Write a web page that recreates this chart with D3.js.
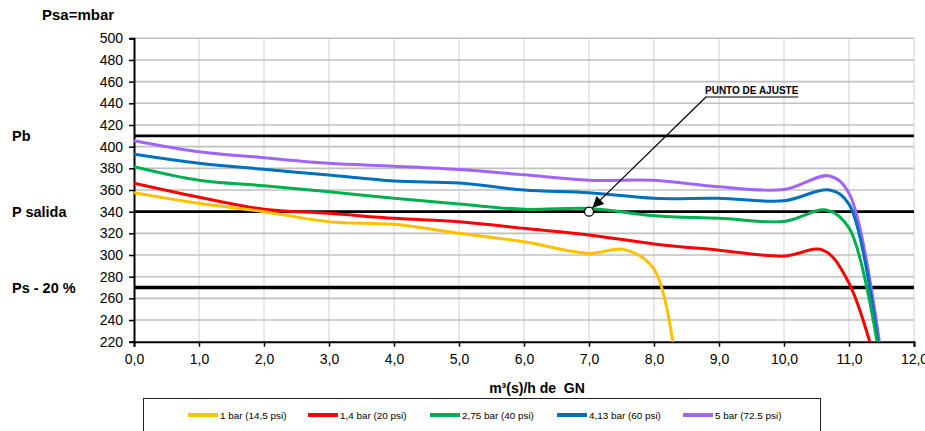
<!DOCTYPE html>
<html>
<head>
<meta charset="utf-8">
<script src="https://cdn.jsdelivr.net/npm/d3@7"></script>
<style>
  body { margin: 0; background: #fff; }
  svg text { font-family: Arial, "Liberation Sans", sans-serif; fill: #000; }
</style>
</head>
<body>
<script>
// series data (flow in m3/h, pressure in mbar)
const seriesNames = ["1 bar (14,5 psi)", "1,4 bar (20 psi)", "2,75 bar (40 psi)", "4,13 bar (60 psi)", "5 bar (72.5 psi)"];

const flow1bar = [0, 1, 2, 3, 4, 5, 6, 7, 7.55, 8, 8.3];
const psa1bar = [357.5, 347.7, 340, 330.7, 328.3, 320, 312.3, 301.5, 305, 287, 215];

const flow14bar = [0, 1, 2, 3, 4, 5, 6, 7, 8, 9, 10, 10.6, 11, 11.5];
const psa14bar = [366.2, 353.3, 342.2, 338.5, 333.9, 330.7, 324.6, 318.5, 310.2, 304.5, 299, 304.6, 274, 181];

const flow275bar = [0, 1, 2, 3, 4, 5, 6, 7, 8, 9, 10, 10.65, 11, 11.5];
const psa275bar = [381.5, 369, 364, 358.4, 352.3, 347.1, 342.2, 343, 336.3, 333.9, 331, 341.5, 325, 194];

const flow413bar = [0, 1, 2, 3, 4, 5, 6, 7, 8, 9, 10, 10.7, 11, 11.5];
const psa413bar = [392.9, 384.6, 379.1, 373.8, 368.3, 366.5, 360, 357.5, 352.3, 352.3, 350, 360, 347, 195];

const flow5bar = [0, 1, 2, 3, 4, 5, 6, 7, 8, 9, 10, 10.7, 11, 11.5];
const psa5bar = [405.5, 395.3, 389.8, 384.6, 382, 379, 374, 369, 369, 363, 360.5, 373, 357, 205];

// reference pressure levels
const refLevels = [410, 340, 270];
const refLabels = ["Pb", "P salida", "Ps - 20 %"];

// axis ticks
const yTicks = d3.range(220, 501, 20);
const xTicks = d3.range(0, 13, 1);

// adjustment point
const adjustPoint = [7.0, 340];
const adjustLabel = "PUNTO DE AJUSTE";

(function() {

  let svgContainer = "";
  const colors = ["#FFC000", "#FF0000", "#00B050", "#0070C0", "#A065F8"];

  window.onload = function() {
    svgContainer = d3.select('body').append('svg')
      .attr('width', 925)
      .attr('height', 431);

    let map = drawAxes();
    drawRefLines(map);
    plotSeries(map);
    drawAdjustPoint(map);
    makeLegend();
  }

  // grid, axes, tick labels
  function drawAxes() {
    let xScale = d3.scaleLinear().domain([0, 12]).range([134, 914]);
    let yScale = d3.scaleLinear().domain([220, 500]).range([341.7, 38.3]);

    // vertical grid
    svgContainer.append('g').selectAll('line')
      .data(xTicks.slice(1))
      .enter().append('line')
        .attr('x1', (d) => xScale(d)).attr('x2', (d) => xScale(d))
        .attr('y1', yScale(500)).attr('y2', yScale(220))
        .attr('stroke', '#d9d9d9')
        .attr('stroke-width', 1.2);

    // horizontal grid
    svgContainer.append('g').selectAll('line')
      .data(yTicks.slice(1))
      .enter().append('line')
        .attr('x1', xScale(0)).attr('x2', xScale(12))
        .attr('y1', (d) => yScale(d)).attr('y2', (d) => yScale(d))
        .attr('stroke', '#c0c0c0')
        .attr('stroke-width', 1.6);

    let yAxis = d3.axisLeft(yScale)
      .tickValues(yTicks)
      .tickSize(5)
      .tickPadding(6)
      .tickFormat(d3.format('d'));

    let yg = svgContainer.append('g')
      .attr('transform', 'translate(' + xScale(0) + ', 0)')
      .call(yAxis);

    let xAxis = d3.axisBottom(xScale)
      .tickValues(xTicks)
      .tickSize(5)
      .tickPadding(7)
      .tickFormat((d) => d3.format('.1f')(d).replace('.', ','));

    let xg = svgContainer.append('g')
      .attr('transform', 'translate(0, ' + yScale(220) + ')')
      .call(xAxis);

    [yg, xg].forEach(function(g) {
      g.select('.domain').attr('stroke', '#000').attr('stroke-width', 2);
      g.selectAll('.tick line').attr('stroke', '#000').attr('stroke-width', 1.5);
      g.selectAll('.tick text')
        .style('font-size', '14px')
        .style('font-family', 'Arial, "Liberation Sans", sans-serif')
        .attr('fill', '#000');
    });

    svgContainer.append('text')
      .attr('x', 42)
      .attr('y', 20)
      .text('Psa=mbar')
      .style('font-size', '15px')
      .style('font-weight', 'bold');

    svgContainer.append('text')
      .attr('x', 537)
      .attr('y', 393)
      .attr('text-anchor', 'middle')
      .style('white-space', 'pre')
      .text('m³(s)/h de  GN')
      .style('font-size', '14px')
      .style('font-weight', 'bold');

    return { x: xScale, y: yScale };
  }

  // black horizontal lines for Pb, P salida, Ps - 20 %
  function drawRefLines(map) {
    let widths = [2.8, 2.8, 3.6];

    svgContainer.append('g').selectAll('line')
      .data(refLevels)
      .enter().append('line')
        .attr('x1', map.x(0)).attr('x2', map.x(12))
        .attr('y1', (d) => map.y(d)).attr('y2', (d) => map.y(d))
        .attr('stroke', '#000')
        .attr('stroke-width', (d, i) => widths[i]);

    svgContainer.append('g').selectAll('text')
      .data(refLevels)
      .enter().append('text')
        .attr('x', 12)
        .attr('y', (d) => map.y(d))
        .attr('dy', '0.36em')
        .text((d, i) => refLabels[i])
        .style('font-size', '14.5px')
        .style('font-weight', 'bold');
  }

  // the five pressure curves
  function plotSeries(map) {
    let flows = [flow1bar, flow14bar, flow275bar, flow413bar, flow5bar];
    let psas = [psa1bar, psa14bar, psa275bar, psa413bar, psa5bar];

    svgContainer.append('clipPath')
      .attr('id', 'plotClip')
      .append('rect')
        .attr('x', map.x(0))
        .attr('y', map.y(500))
        .attr('width', map.x(12) - map.x(0))
        .attr('height', map.y(220) - map.y(500));

    let line = d3.line()
      .x((d) => map.x(d[0]))
      .y((d) => map.y(d[1]))
      .curve(d3.curveCatmullRom.alpha(0.5));

    // draw 5 bar first so the yellow ends up on top like the reference
    for (let i = flows.length - 1; i >= 0; i--) {
      let pts = flows[i].map((f, j) => [f, psas[i][j]]);
      svgContainer.append('path')
        .datum(pts)
        .attr('d', line)
        .attr('clip-path', 'url(#plotClip)')
        .attr('fill', 'none')
        .attr('stroke', colors[i])
        .attr('stroke-width', 3)
        .attr('stroke-linejoin', 'round');
    }
  }

  // circle + arrow + label
  function drawAdjustPoint(map) {
    let cx = map.x(adjustPoint[0]);
    let cy = map.y(adjustPoint[1]);
    let lx = cx + 116;
    let ly = 94;

    svgContainer.append('defs').append('marker')
      .attr('id', 'arrowHead')
      .attr('viewBox', '0 0 10 10')
      .attr('refX', 10)
      .attr('refY', 5)
      .attr('markerUnits', 'userSpaceOnUse')
      .attr('markerWidth', 14)
      .attr('markerHeight', 11)
      .attr('orient', 'auto')
      .append('path')
        .attr('d', 'M0,0 L10,5 L0,10 z')
        .attr('fill', '#000');

    svgContainer.append('line')
      .attr('x1', lx + 1)
      .attr('y1', ly + 3)
      .attr('x2', cx + 3.5)
      .attr('y2', cy - 4)
      .attr('stroke', '#000')
      .attr('stroke-width', 1.2)
      .attr('marker-end', 'url(#arrowHead)');

    svgContainer.append('circle')
      .attr('cx', cx)
      .attr('cy', cy)
      .attr('r', 4.5)
      .attr('fill', '#fff')
      .attr('stroke', '#000')
      .attr('stroke-width', 1.3);

    let label = svgContainer.append('text')
      .attr('x', lx)
      .attr('y', ly)
      .text(adjustLabel)
      .style('font-size', '10px')
      .style('font-weight', 'bold');

    let w = label.node().getComputedTextLength();
    svgContainer.append('line')
      .attr('x1', lx).attr('x2', lx + w)
      .attr('y1', ly + 3).attr('y2', ly + 3)
      .attr('stroke', '#000')
      .attr('stroke-width', 1.2);
  }

  // legend box at the bottom
  function makeLegend() {
    let lineX = [188, 308, 430, 557, 683];

    svgContainer.append('rect')
      .attr('x', 143.5)
      .attr('y', 398.5)
      .attr('width', 677)
      .attr('height', 40)
      .attr('fill', '#fff')
      .attr('stroke', '#222')
      .attr('stroke-width', 1);

    let items = svgContainer.append('g').selectAll('g')
      .data(seriesNames)
      .enter().append('g');

    items.append('line')
      .attr('x1', (d, i) => lineX[i])
      .attr('x2', (d, i) => lineX[i] + 30)
      .attr('y1', 415).attr('y2', 415)
      .attr('stroke', (d, i) => colors[i])
      .attr('stroke-width', 4);

    items.append('text')
      .attr('x', (d, i) => lineX[i] + 32)
      .attr('y', 418.5)
      .text((d) => d)
      .style('font-size', '9.9px');
  }

})();
</script>
</body>
</html>
